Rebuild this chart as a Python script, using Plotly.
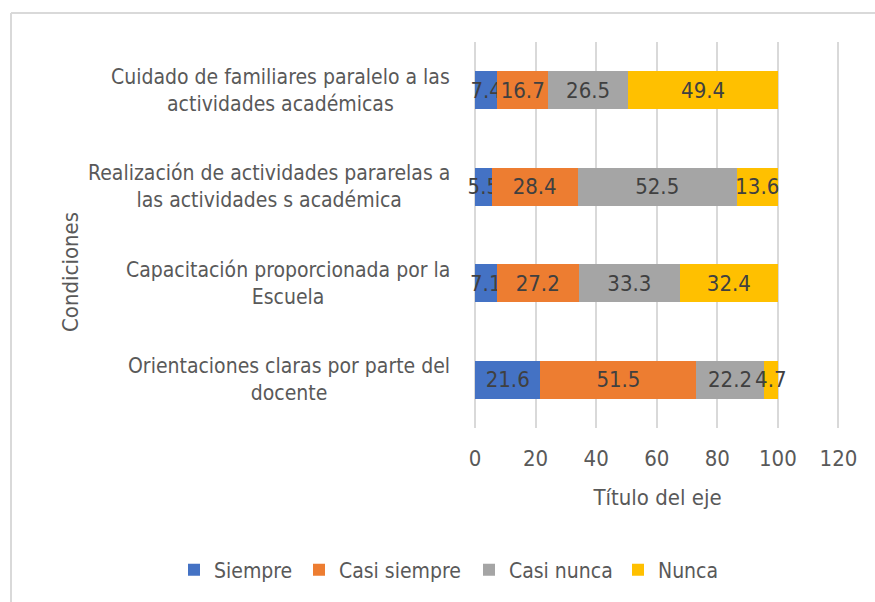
import plotly.graph_objects as go

# Data (bottom-to-top order, as drawn on the category axis)
categories = [
    "Orientaciones claras por parte del<br>docente",
    "Capacitación proporcionada por la<br>Escuela",
    "Realización de actividades pararelas a<br>las actividades s académica",
    "Cuidado de familiares paralelo a las<br>actividades académicas",
]
series_names = ["Siempre", "Casi siempre", "Casi nunca", "Nunca"]
siempre = [21.6, 7.1, 5.5, 7.4]
casi_siempre = [51.5, 27.2, 28.4, 16.7]
casi_nunca = [22.2, 33.3, 52.5, 26.5]
nunca = [4.7, 32.4, 13.6, 49.4]
x_ticks = [0, 20, 40, 60, 80, 100, 120]

colors = ["#4472C4", "#ED7D31", "#A5A5A5", "#FFC000"]
FONT = "Liberation Sans Narrow, Arial Narrow, DejaVu Sans Condensed, Open Sans, sans-serif"
TXT = "#595959"

W, H = 875, 602
ML, MR, MT, MB = 475, 35, 42, 174
PW, PH = W - ML - MR, H - MT - MB

def px_x(px):
    return (px - ML) / PW

def px_y(py):
    return (H - MB - py) / PH

legend_ids = ["legend", "legend2", "legend3", "legend4"]
legend_text_x = [210, 335, 505, 654]   # layout positions (px) of legend entries

fig = go.Figure()
for name, vals, col, lid in zip(series_names, [siempre, casi_siempre, casi_nunca, nunca], colors, legend_ids):
    fig.add_trace(go.Bar(
        y=categories, x=vals, name=name, orientation="h",
        marker=dict(color=col, line=dict(width=0)),
        text=[f"{v}" for v in vals], textposition="inside",
        insidetextanchor="middle", textangle=0, constraintext="none",
        cliponaxis=False, legend=lid,
        textfont=dict(family=FONT, size=22, color="#404040"),
    ))

# Category labels (centered lines, right-anchored block)
for c in categories:
    fig.add_annotation(
        x=px_x(452), xref="paper", y=c, yref="y", text=c, showarrow=False,
        xanchor="right", yanchor="middle", align="center",
        font=dict(family=FONT, size=21, color=TXT),
    )

# Y axis title
fig.add_annotation(
    x=px_x(70), xref="paper", y=px_y(272), yref="paper", text="Condiciones",
    textangle=-90, showarrow=False, xanchor="center", yanchor="middle",
    font=dict(family=FONT, size=22, color=TXT),
)

# Chart border (left and top visible)
border = dict(color="#D9D9D9", width=2)
fig.add_shape(type="line", xref="paper", yref="paper",
              x0=px_x(11), x1=px_x(11), y0=px_y(13), y1=px_y(H + 5), line=border)
fig.add_shape(type="line", xref="paper", yref="paper",
              x0=px_x(11), x1=px_x(W + 5), y0=px_y(13), y1=px_y(13), line=border)

legend_common = dict(
    orientation="h", xref="container", yref="container",
    yanchor="middle", xanchor="left", itemwidth=30,
    font=dict(family=FONT, size=21, color=TXT),
    bgcolor="rgba(0,0,0,0)",
)
legend_layout = {}
for lid, tx in zip(legend_ids, legend_text_x):
    legend_layout[lid] = dict(legend_common, x=(tx - 36) / W, y=1 - 570 / H)

fig.update_layout(
    width=W, height=H,
    margin=dict(l=ML, r=MR, t=MT, b=MB, autoexpand=False),
    barmode="stack", bargap=0.606,
    plot_bgcolor="white", paper_bgcolor="white",
    font=dict(family=FONT, size=22, color=TXT),
    showlegend=True,
    xaxis=dict(
        range=[0, 120.5], tickvals=x_ticks, ticktext=[str(t) for t in x_ticks],
        showgrid=True, gridcolor="#D9D9D9", gridwidth=2,
        zeroline=True, zerolinecolor="#D9D9D9", zerolinewidth=2,
        showline=False, ticks="", ticklabelstandoff=15,
        tickfont=dict(family=FONT, size=22, color=TXT),
        title=dict(text="Título del eje", standoff=19,
                   font=dict(family=FONT, size=22, color=TXT)),
    ),
    yaxis=dict(
        showticklabels=False, showgrid=False, zeroline=False, showline=False,
        ticks="",
    ),
    **legend_layout,
)

fig.write_html("out.html", config={"displayModeBar": False},
               post_script="document.body.style.margin='0';")
